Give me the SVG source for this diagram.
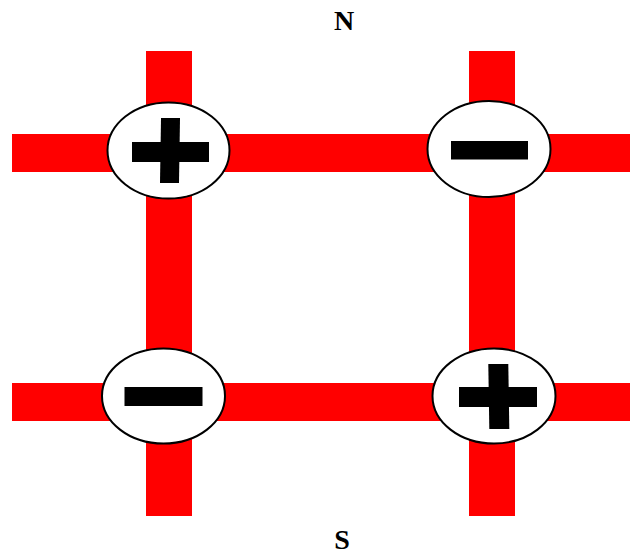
<svg xmlns="http://www.w3.org/2000/svg" width="630" height="555" viewBox="0 0 630 555">
<style>
.bar{fill:#ff0000}
.node ellipse{fill:#ffffff;stroke:#000000;stroke-width:2}
.sign{fill:#000000}
.lbl{font-family:"Liberation Serif","Times New Roman",serif;font-weight:bold;font-size:28px;fill:#000000;text-anchor:middle}
</style>
<rect width="630" height="555" fill="#ffffff"/>
<g id="connectors">
<rect class="bar" x="146" y="51" width="46" height="465"/>
<rect class="bar" x="469" y="51" width="46" height="465"/>
<rect class="bar" x="12" y="134" width="618" height="38"/>
<rect class="bar" x="12" y="383" width="618" height="38"/>
</g>
<g id="node-nw" class="node">
<ellipse cx="168.5" cy="150.5" rx="61" ry="48"/>
<rect class="sign" x="132" y="142" width="77" height="20"/>
<polygon class="sign" points="161,118 180,118 179,183 160,183"/>
</g>
<g id="node-ne" class="node">
<ellipse cx="489" cy="149" rx="61.5" ry="48"/>
<rect class="sign" x="451" y="141" width="77" height="18.5"/>
</g>
<g id="node-sw" class="node">
<ellipse cx="163.5" cy="396" rx="61.5" ry="47.5"/>
<rect class="sign" x="124.5" y="387" width="78" height="19"/>
</g>
<g id="node-se" class="node">
<ellipse cx="494" cy="396" rx="61.5" ry="47.5"/>
<rect class="sign" x="459" y="387" width="78" height="20"/>
<polygon class="sign" points="488.3,364 508.3,364 509.3,429 489.3,429"/>
</g>
<text class="lbl" x="344" y="30">N</text>
<text class="lbl" x="342" y="549">S</text>
</svg>
